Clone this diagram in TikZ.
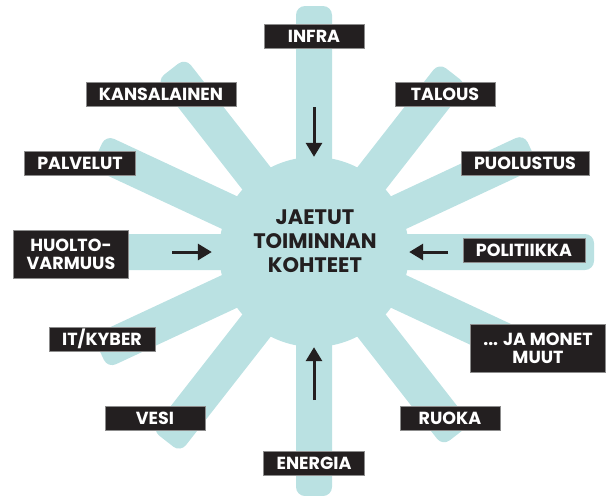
\documentclass[tikz,border=0pt]{standalone}
\usepackage{fontspec}
\setmainfont{Poppins}
\usetikzlibrary{arrows.meta}
\definecolor{armteal}{HTML}{BAE1E2}
\definecolor{boxblack}{HTML}{231F20}

\begin{document}
\begin{tikzpicture}[x=1pt,y=-1pt,
  tag/.style={fill=boxblack,draw=black!45,line width=0.6pt,text=white,
    font=\bfseries\fontsize{17.5}{18}\selectfont,align=center,
    minimum width=100pt,minimum height=24pt,inner xsep=13pt,inner ysep=2pt},
  arr/.style={draw=boxblack,line width=3pt,-{Triangle[width=16pt,length=14pt]}}]
\useasboundingbox (0,0) rectangle (606,496);
% arms of the star
\foreach \ang/\len in {90/246,52/226,25/240,0/280,-25/240,-52/232,
                       -90/244,-128/240,-155/236,180/280,155/238,128/232}
  \fill[armteal,rounded corners=9pt,shift={(314,252)},rotate=\ang]
    (0,-18) rectangle (\len,18);
\node[circle,fill=armteal,minimum size=190pt,inner sep=0pt] (hub) at (314,252) {};
\node[text=boxblack,font=\bfseries\fontsize{21}{24}\selectfont,align=center]
  (title) at (315,241) {JAETUT\\TOIMINNAN\\KOHTEET};
% labels
\node[tag] (infra) at (314,36) {INFRA};
\node[tag] (kansa) at (161,94) {KANSALAINEN};
\node[tag] (palv) at (80,163) {PALVELUT};
\node[tag] (talous) at (445,94) {TALOUS};
\node[tag] (puol) at (525,163) {PUOLUSTUS};
\node[tag,minimum height=48pt] (huolto) at (71,254) {HUOLTO-\\VARMUUS};
\node[tag] (polit) at (524,250) {POLITIIKKA};
\node[tag] (itk) at (102,339) {IT/KYBER};
\node[tag] (vesi) at (155,418) {VESI};
\node[tag] (energia) at (314,463) {ENERGIA};
\node[tag] (ruoka) at (450,418) {RUOKA};
\node[tag,minimum height=48pt] (muut) at (538,348) {... JA MONET\\MUUT};
% arrows into the hub
\coordinate (infraT) at (314,107);
\coordinate (huoltoT) at (172,252);
\coordinate (politT) at (448,252);
\coordinate (energiaT) at (314,400);
\draw[arr] (infraT) -- (hub.north);
\draw[arr,shorten >=7pt] (huoltoT) -- (hub.west);
\draw[arr] (politT) -- (hub.east);
\draw[arr] (energiaT) -- (hub.south);
\end{tikzpicture}
\end{document}
